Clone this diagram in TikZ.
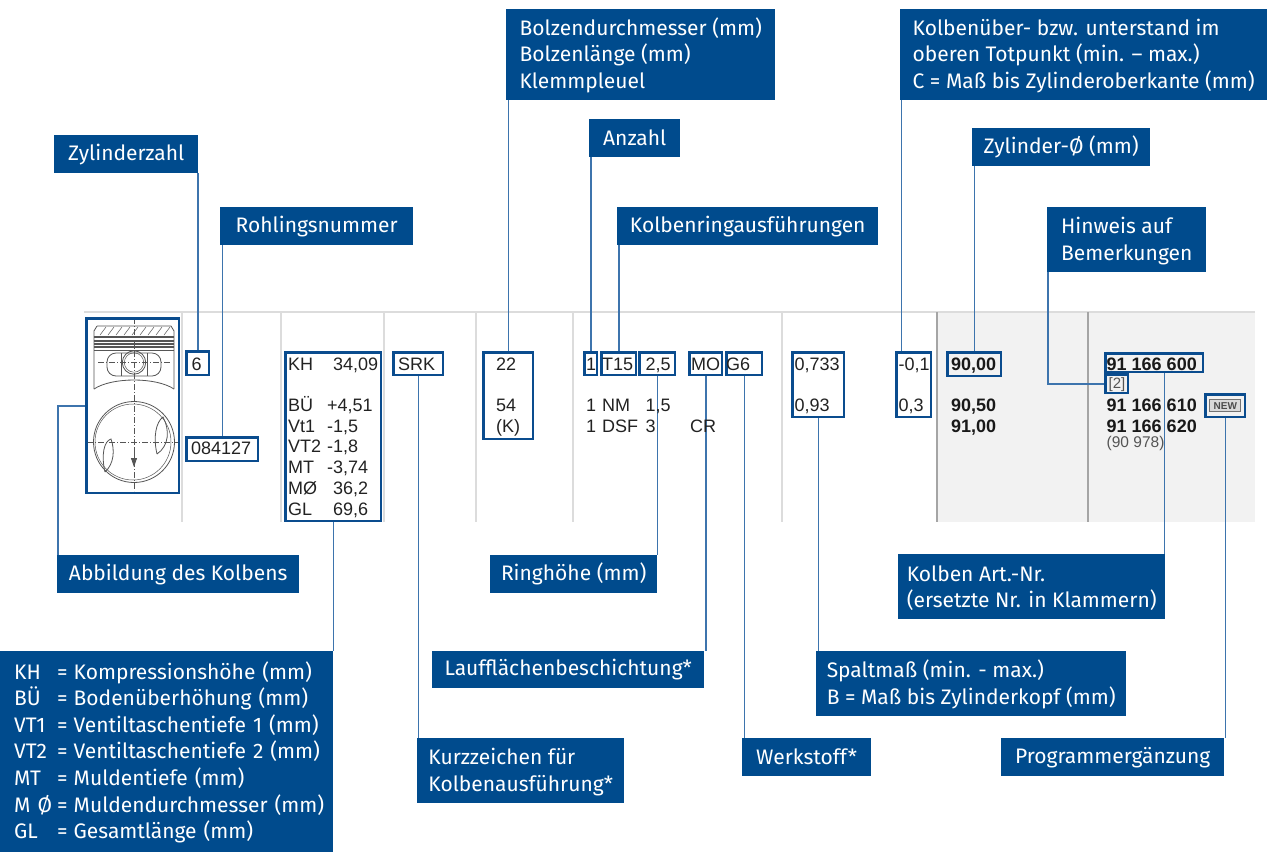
\documentclass[tikz,border=0pt]{standalone}
\usepackage{fontspec}
\setmainfont{Fira Sans}
\newfontfamily\dfont{Liberation Sans}
\usetikzlibrary{arrows.meta}
\definecolor{mblue}{HTML}{004B8D}
\definecolor{bblue}{HTML}{0A4C8E}
\definecolor{cblue}{HTML}{3D74AD}
\definecolor{sepl}{HTML}{DCDCDC}
\definecolor{sepd}{HTML}{A5A5A5}
\definecolor{shadegray}{HTML}{F2F2F2}
\definecolor{dtext}{HTML}{222222}
\definecolor{pgray}{HTML}{555555}
\tikzset{
 lbl/.style={fill=mblue,text=white,inner xsep=0pt,inner ysep=0pt,anchor=north west,align=left,font=\fontsize{21}{26.6}\selectfont},
 dbox/.style={draw=bblue,line width=2.6pt,inner sep=0pt,anchor=north west},
 conn/.style={draw=cblue,line width=1.5pt},
 dtxt/.style={inner sep=0pt,anchor=base west,text=dtext,font=\dfont\fontsize{18}{21}\selectfont},
 dbold/.style={inner sep=0pt,anchor=base west,text=black!90,font=\dfont\bfseries\fontsize{18}{21}\selectfont},
 gtxt/.style={inner sep=0pt,anchor=base west,text=pgray,font=\dfont\fontsize{15.5}{18}\selectfont},
 pline/.style={draw=pgray,line width=0.8pt},
}
\newcommand\lblnode[6]{\node[lbl,minimum width={(#4-#2)*1pt},minimum height={(#5-#3)*1pt}] (#1) at (#2,#3) {#6};}
\newcommand\dbx[5]{\node[dbox,minimum width={(#4-#2-2.4)*1pt},minimum height={(#5-#3-2.4)*1pt}] (#1) at (#2+1.2,#3+1.2) {};}
\newcommand\legl[2]{\hspace*{14pt}\makebox[43pt][l]{#1}=\hspace{6pt}#2}
\newcommand\topstrut{\rule{0pt}{19pt}}
\begin{document}
\begin{tikzpicture}[x=1pt,y=-1pt]
\useasboundingbox (0,0) rectangle (1271,855);
% table background
\fill[shadegray] (937,312) rectangle (1255,522);
\draw[sepl,line width=1.2pt] (84,312) -- (1255,312);
\foreach \x in {182,281,384,476,573,782} \draw[sepl,line width=1.5pt] (\x,312) -- (\x,522);
\foreach \x in {937,1088} \draw[sepd,line width=1.5pt] (\x,312) -- (\x,522);

% piston drawing
\draw[pline] (97,326) -- (171,326) -- (174,331) -- (174,389);
\draw[pline] (97,326) -- (94,331) -- (94,389);
\foreach \y in {337,341,344,347} \draw[pgray,line width=1.1pt] (94,\y) -- (174,\y);
\draw[pline] (94,350) -- (174,350);
\foreach \x in {100,108,...,164} \draw[pgray,line width=0.5pt] (\x,335) -- (\x+6,327);
\draw[pline] (94,389) .. controls (112,377) and (156,377) .. (174,389);
\draw[pline,rounded corners=9pt] (107,353) rectangle (161,376);
\draw[pline] (121,353) -- (121,376) (147,353) -- (147,376);
\draw[pline] (134,362.5) circle[radius=11.7];
\draw[pgray,line width=0.5pt] (134,362.5) circle[radius=9.7];
\draw[pline] (134,442) circle[radius=40.5];
\draw[pgray,line width=0.5pt] (133,442) circle[radius=38];
\draw[pline] (105,472) .. controls (101,455) and (104,441) .. (111,439) .. controls (115,450) and (114,464) .. (105,472);
\draw[pline] (157,454) .. controls (153,437) and (156,422) .. (163,417) .. controls (170,430) and (169,446) .. (157,454);
\draw[pgray,line width=0.4pt,dash pattern=on 6pt off 2pt on 1pt off 2pt] (134,318) -- (134,491) (87,442) -- (179,442) (98,362.5) -- (170,362.5);
\draw[pgray,line width=0.8pt,-{Triangle[length=9pt,width=6pt]}] (134,447) -- (134,467);

% label boxes
\lblnode{lZyl}{54}{135}{198}{173}{Zylinderzahl}
\lblnode{lRoh}{220}{207}{413}{245}{Rohlingsnummer}
\lblnode{lBol}{506}{9}{775}{100}{\topstrut Bolzendurchmesser (mm)\\Bolzenlänge (mm)\\Klemmpleuel}
\lblnode{lAnz}{589}{119}{680}{157}{Anzahl}
\lblnode{lKri}{617}{207}{878}{245}{Kolbenringausführungen}
\lblnode{lKue}{900}{9}{1267}{100}{\topstrut Kolbenüber- bzw. unterstand im\\oberen Totpunkt (min. – max.)\\C = Maß bis Zylinderoberkante (mm)}
\lblnode{lZdm}{972}{128}{1150}{166}{Zylinder-Ø (mm)}
\lblnode{lHin}{1047}{207}{1206}{272}{\topstrut Hinweis auf\\Bemerkungen}
\lblnode{lAbb}{57}{555}{299}{593}{Abbildung des Kolbens}
\node[lbl,minimum width=333pt,minimum height=201pt,text width=333pt] (lLeg) at (0,651) {\topstrut\legl{KH}{Kompressionshöhe (mm)}\\\legl{BÜ}{Bodenüberhöhung (mm)}\\\legl{VT1}{Ventiltaschentiefe 1 (mm)}\\\legl{VT2}{Ventiltaschentiefe 2 (mm)}\\\legl{MT}{Muldentiefe (mm)}\\\legl{M Ø}{Muldendurchmesser (mm)}\\\legl{GL}{Gesamtlänge (mm)}};
\lblnode{lKur}{417}{738}{624}{803}{\topstrut Kurzzeichen für\\Kolbenausführung*}
\lblnode{lRin}{490}{555}{657}{593}{Ringhöhe (mm)}
\lblnode{lLau}{432}{651}{704}{688}{Laufflächenbeschichtung*}
\lblnode{lWer}{742}{738}{871}{776}{Werkstoff*}
\lblnode{lSpa}{816}{651}{1126}{716}{\topstrut Spaltmaß (min. - max.)\\B = Maß bis Zylinderkopf (mm)}
\lblnode{lArt}{898}{554}{1165}{619}{\topstrut Kolben Art.-Nr.\\(ersetzte Nr. in Klammern)}
\lblnode{lPro}{1001}{738}{1224}{776}{Programmergänzung}

% data boxes
\dbx{bPis}{84}{316}{179}{493}
\dbx{b6}{184}{349}{209}{375}
\dbx{b084}{184}{435}{258}{461}
\dbx{bKH}{283}{350}{381}{521}
\dbx{bSRK}{391}{350}{443}{375}
\dbx{b22}{481}{350}{533}{439}
\dbx{b1}{582}{350}{597}{375}
\dbx{bT15}{599}{350}{636}{375}
\dbx{b25}{637}{350}{675}{375}
\dbx{bMO}{687}{350}{722}{375}
\dbx{bG6}{724}{350}{762}{375}
\dbx{b733}{790}{350}{844}{417}
\dbx{bKue}{894}{350}{931}{417}
\dbx{b9000}{945}{350}{1001}{376}
\dbx{b600}{1103}{351}{1203}{372}
\dbx{bBr}{1103}{372}{1128}{393}
\dbx{bNew}{1203}{392}{1245}{417}
\node[draw=black!55,fill=black!15,line width=1pt,minimum width=31pt,minimum height=12pt,inner sep=0pt,text=black!70,font=\dfont\bfseries\fontsize{10}{11}\selectfont] (tNew) at (bNew.center) {NEW};

% connectors
\draw[conn] (b6.north) -- (b6.north |- lZyl.south);
\draw[conn] (b084.north) -- (b084.north |- lRoh.south);
\draw[conn] (b22.north) -- (b22.north |- lBol.south);
\draw[conn] (b1.north) -- (b1.north |- lAnz.south);
\draw[conn] (bT15.north) -- (bT15.north |- lKri.south);
\draw[conn] ([xshift=1.5pt]lKue.south west) -- ([xshift=1.5pt]lKue.south west |- bKue.north);
\draw[conn] (b9000.north) -- (b9000.north |- lZdm.south);
\draw[conn] ([xshift=0.75pt]lHin.south west) |- (bBr.west);
\draw[conn] (bPis.west) -| ([xshift=1pt]lAbb.north west);
\draw[conn] (bKH.south) -- (bKH.south |- lLeg.north);
\draw[conn] (bSRK.south) -- (bSRK.south |- lKur.north);
\draw[conn] (b25.south) -- (b25.south |- lRin.north);
\draw[conn] (bMO.south) -- (bMO.south |- lLau.north);
\draw[conn] (bG6.south) -- (bG6.south |- lWer.north);
\draw[conn] (b733.south) -- (b733.south |- lSpa.north);
\draw[conn] ([xshift=-0.75pt]lArt.north east) -- ([xshift=-0.75pt]lArt.north east |- b600.south);
\draw[conn] (bNew.south) -- (bNew.south |- lPro.north);

% data texts
\node[dtxt] (t6) at (191.5,370.5) {6};
\node[dtxt] (t084) at (191,454.5) {084127};
\node[dtxt] (tKH) at (288,370.5) {KH};
\node[dtxt] (tKHv) at (333,370.5) {34,09};
\node[dtxt] (tBU) at (288,411) {BÜ};
\node[dtxt] (tBUv) at (327,411) {+4,51};
\node[dtxt] (tVt) at (288,432) {Vt1};
\node[dtxt] (tVtv) at (327,432) {-1,5};
\node[dtxt] (tVT) at (288,452.5) {VT2};
\node[dtxt] (tVTv) at (327,452.5) {-1,8};
\node[dtxt] (tMT) at (288,473.5) {MT};
\node[dtxt] (tMTv) at (327,473.5) {-3,74};
\node[dtxt] (tMD) at (288,494.5) {MØ};
\node[dtxt] (tMDv) at (333,494.5) {36,2};
\node[dtxt] (tGL) at (288,515.5) {GL};
\node[dtxt] (tGLv) at (333,515.5) {69,6};
\node[dtxt] (tSRK) at (398,370.5) {SRK};
\node[dtxt] (t22) at (496,370.5) {22};
\node[dtxt] (t54) at (496,411) {54};
\node[dtxt] (tK) at (496,432) {(K)};
\node[dtxt] (t1) at (586,370.5) {1};
\node[dtxt] (tT15) at (602,370.5) {T15};
\node[dtxt] (t25) at (645.5,370.5) {2,5};
\node[dtxt] (tMO) at (691,370.5) {MO};
\node[dtxt] (tG6) at (726,370.5) {G6};
\node[dtxt] (t1b) at (586,411) {1};
\node[dtxt] (tNM) at (602,411) {NM};
\node[dtxt] (t15) at (645.5,411) {1,5};
\node[dtxt] (t1c) at (586,432) {1};
\node[dtxt] (tDSF) at (602,432) {DSF};
\node[dtxt] (t3) at (645.5,432) {3};
\node[dtxt] (tCR) at (690,432) {CR};
\node[dtxt] (t733) at (794.5,370.5) {0,733};
\node[dtxt] (t093) at (794.5,411) {0,93};
\node[dtxt] (tm01) at (898.5,370.5) {-0,1};
\node[dtxt] (t03) at (898.5,411) {0,3};
\node[dbold] (t9000) at (951,370.5) {90,00};
\node[dbold] (t9050) at (951,411) {90,50};
\node[dbold] (t9100) at (951,432) {91,00};
\node[dbold] (t600) at (1106.5,370) {91 166 600};
\node[gtxt,font=\dfont\fontsize{15}{18}\selectfont] (tBr) at (1108.5,388.5) {[2]};
\node[dbold] (t610) at (1106.5,411) {91 166 610};
\node[dbold] (t620) at (1106.5,432) {91 166 620};
\node[gtxt] (t978) at (1106.5,447.5) {(90 978)};
\end{tikzpicture}
\end{document}
